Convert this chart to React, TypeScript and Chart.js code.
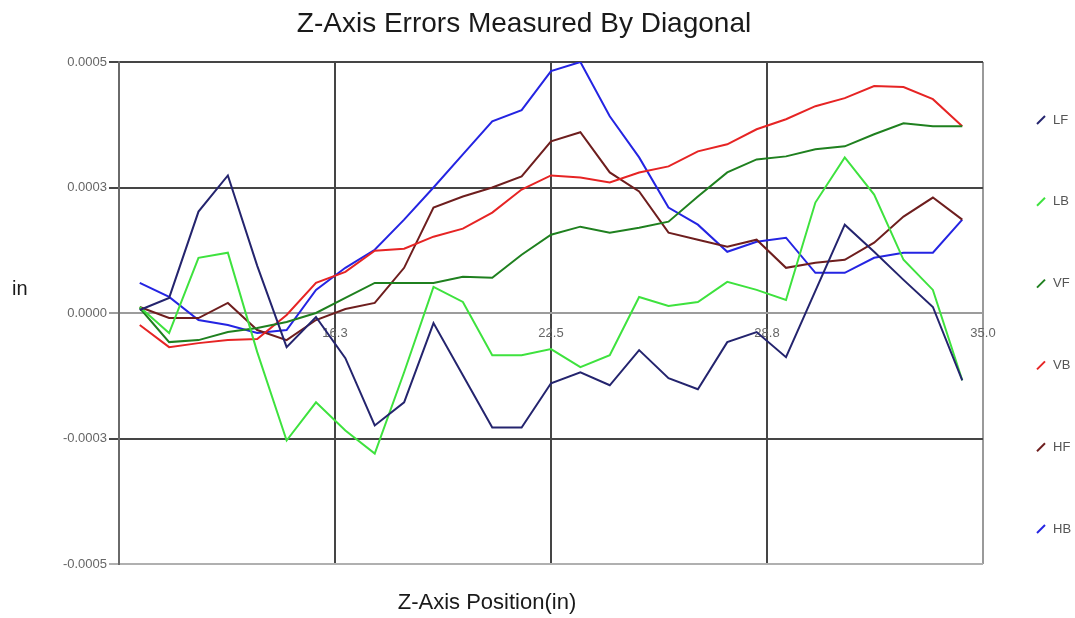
import React, { useEffect, useRef } from 'react';
import { Chart, registerables } from 'chart.js';

Chart.register(...registerables);

// ---- data ----
const chartTitle = 'Z-Axis Errors Measured By Diagonal';
const xAxisTitle = 'Z-Axis Position(in)';
const yAxisTitle = 'in';

const xPositions = [
  10.6, 11.45, 12.3, 13.15, 14.0, 14.85, 15.7, 16.55, 17.4, 18.25, 19.1, 19.95, 20.8, 21.65, 22.5,
  23.35, 24.2, 25.05, 25.9, 26.75, 27.6, 28.45, 29.3, 30.15, 31.0, 31.85, 32.7, 33.55, 34.4,
];

const lfValues = [
  6e-6, 30e-6, 202e-6, 274e-6, 94e-6, -68e-6, -8e-6, -90e-6, -224e-6, -178e-6, -20e-6, -124e-6, -228e-6, -228e-6, -140e-6,
  -118e-6, -144e-6, -74e-6, -130e-6, -152e-6, -58e-6, -38e-6, -88e-6, 44e-6, 176e-6, 122e-6, 66e-6, 12e-6, -134e-6,
];
const lbValues = [
  12e-6, -40e-6, 110e-6, 120e-6, -78e-6, -254e-6, -178e-6, -234e-6, -280e-6, -118e-6, 52e-6, 22e-6, -84e-6, -84e-6, -72e-6,
  -108e-6, -84e-6, 32e-6, 14e-6, 22e-6, 62e-6, 46e-6, 26e-6, 220e-6, 310e-6, 236e-6, 106e-6, 46e-6, -134e-6,
];
const vfValues = [
  10e-6, -58e-6, -54e-6, -38e-6, -30e-6, -18e-6, 0, 30e-6, 60e-6, 60e-6, 60e-6, 72e-6, 70e-6, 116e-6, 156e-6,
  172e-6, 160e-6, 170e-6, 182e-6, 232e-6, 280e-6, 306e-6, 312e-6, 326e-6, 332e-6, 356e-6, 378e-6, 372e-6, 372e-6,
];
const vbValues = [
  -24e-6, -68e-6, -60e-6, -54e-6, -52e-6, -4e-6, 60e-6, 82e-6, 124e-6, 128e-6, 152e-6, 168e-6, 200e-6, 246e-6, 274e-6,
  270e-6, 260e-6, 280e-6, 292e-6, 322e-6, 336e-6, 366e-6, 386e-6, 412e-6, 428e-6, 452e-6, 450e-6, 426e-6, 372e-6,
];
const hfValues = [
  12e-6, -10e-6, -10e-6, 20e-6, -34e-6, -54e-6, -14e-6, 8e-6, 20e-6, 90e-6, 210e-6, 232e-6, 250e-6, 272e-6, 342e-6,
  360e-6, 280e-6, 242e-6, 160e-6, 146e-6, 132e-6, 146e-6, 90e-6, 100e-6, 106e-6, 140e-6, 192e-6, 230e-6, 186e-6,
];
const hbValues = [
  60e-6, 32e-6, -14e-6, -24e-6, -40e-6, -34e-6, 46e-6, 90e-6, 126e-6, 186e-6, 250e-6, 316e-6, 382e-6, 404e-6, 482e-6,
  500e-6, 392e-6, 310e-6, 210e-6, 176e-6, 122e-6, 142e-6, 150e-6, 80e-6, 80e-6, 110e-6, 120e-6, 120e-6, 186e-6,
];

const seriesNames = ['LF', 'LB', 'VF', 'VB', 'HF', 'HB'];
const seriesValues = [lfValues, lbValues, vfValues, vbValues, hfValues, hbValues];
const seriesColors = ['#24246e', '#3ee23e', '#1f801f', '#e62424', '#6e1e1e', '#2424e2'];

const yTickValues = [-0.0005, -0.00025, 0, 0.00025, 0.0005];
const yTickLabels = ['-0.0005', '-0.0003', '0.0000', '0.0003', '0.0005'];
const xTickValues = [16.25, 22.5, 28.75, 35];
const xTickLabels = ['16.3', '22.5', '28.8', '35.0'];

const FONT = '"Liberation Sans", Arial, Helvetica, sans-serif';

const textPlugin = {
  id: 'staticText',
  afterDraw(chart: any) {
    const ctx = chart.ctx as CanvasRenderingContext2D;
    ctx.save();
    ctx.fillStyle = '#1a1a1a';
    ctx.textBaseline = 'alphabetic';
    ctx.textAlign = 'center';
    ctx.font = `28px ${FONT}`;
    ctx.fillText(chartTitle, 524, 32);
    ctx.font = `22px ${FONT}`;
    ctx.fillText(xAxisTitle, 487, 609);
    ctx.textAlign = 'left';
    ctx.font = `20px ${FONT}`;
    ctx.fillText(yAxisTitle, 12, 295);

    // legend
    ctx.font = `13px ${FONT}`;
    ctx.textBaseline = 'middle';
    chart.data.datasets.forEach((ds: any, i: number) => {
      const y = 120 + i * 81.8;
      ctx.strokeStyle = ds.borderColor;
      ctx.lineWidth = 2;
      ctx.beginPath();
      ctx.moveTo(1037, y + 4);
      ctx.lineTo(1045, y - 4);
      ctx.stroke();
      ctx.fillStyle = '#555';
      ctx.fillText(ds.label, 1053, y);
    });
    ctx.restore();
  },
};

export default function App() {
  const ref = useRef<HTMLCanvasElement>(null);

  useEffect(() => {
    if (!ref.current) return;
    const datasets = seriesNames.map((name, s) => ({
      label: name,
      data: xPositions.map((x, i) => ({ x, y: seriesValues[s][i] })),
      borderColor: seriesColors[s],
      backgroundColor: seriesColors[s],
      borderWidth: 2,
      pointRadius: 0,
      tension: 0,
      fill: false,
    }));

    const chart = new Chart(ref.current, {
      type: 'line',
      data: { datasets },
      options: {
        animation: false,
        responsive: false,
        devicePixelRatio: 1,
        layout: { padding: { top: 62, right: 92, bottom: 54, left: 0 } },
        plugins: {
          legend: { display: false },
          title: { display: false },
          tooltip: { enabled: false },
        },
        scales: {
          x: {
            type: 'linear',
            min: 10,
            max: 35,
            position: { y: 0 } as any,
            afterBuildTicks: (s: any) => {
              s.ticks = xTickValues.map((v) => ({ value: v }));
            },
            ticks: {
              callback: (_v: any, i: number) => xTickLabels[i],
              font: { family: FONT, size: 13 },
              color: '#666',
              padding: 13,
              maxRotation: 0,
              autoSkip: false,
            },
            grid: {
              color: (c: any) => (c.tick && c.tick.value === 35 ? '#9a9a9a' : '#454545'),
              lineWidth: 2,
              drawTicks: false,
            },
            border: { display: false },
          },
          y: {
            type: 'linear',
            min: -0.0005,
            max: 0.0005,
            afterBuildTicks: (s: any) => {
              s.ticks = yTickValues.map((v) => ({ value: v }));
            },
            afterFit: (s: any) => {
              s.width = 119;
            },
            ticks: {
              callback: (_v: any, i: number) => yTickLabels[i],
              font: { family: FONT, size: 13 },
              color: '#666',
              padding: 2,
            },
            grid: {
              color: (c: any) => {
                const v = c.tick ? c.tick.value : null;
                if (v === 0) return '#9c9c9c';
                if (v === -0.0005) return '#b0b0b0';
                return '#454545';
              },
              lineWidth: 2,
              tickLength: 10,
            },
            border: { display: true, color: '#6a6a6a', width: 2 },
          },
        },
      },
      plugins: [textPlugin],
    } as any);

    return () => chart.destroy();
  }, []);

  return (
    <div style={{ position: 'fixed', left: 0, top: 0, width: 1075, height: 618, background: '#fff' }}>
      <canvas ref={ref} width={1075} height={618} style={{ display: 'block' }} />
    </div>
  );
}
